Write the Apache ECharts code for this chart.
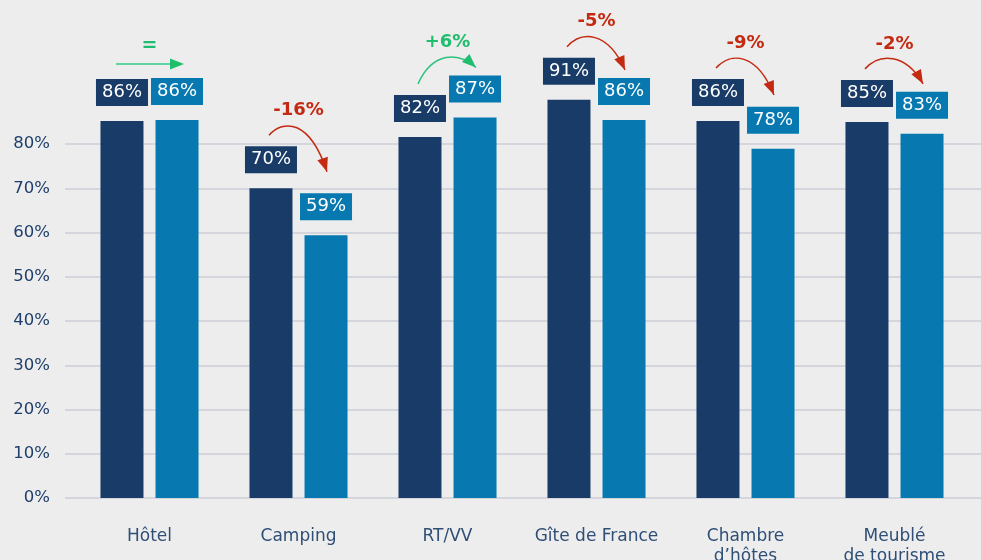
<!DOCTYPE html>
<html>
<head>
<meta charset="utf-8">
<script src="https://cdn.jsdelivr.net/npm/echarts@6/dist/echarts.min.js"></script>
<style>
  html, body { margin: 0; padding: 0; background: #ededed; }
  #chart { width: 981px; height: 560px; }
</style>
</head>
<body>
<div id="chart"></div>
<script>
// categories (x axis)
var categories = ['Hôtel', 'Camping', 'RT/VV', 'Gîte de France', 'Chambre\nd’hôtes', 'Meublé\nde tourisme'];
// bar heights as drawn (first period / second period)
var values1 = [85.2, 70, 81.6, 90, 85.2, 85];
var values2 = [85.4, 59.4, 86, 85.4, 78.9, 82.3];
// printed labels
var labels1 = [86, 70, 82, 91, 86, 85];
var labels2 = [86, 59, 87, 86, 78, 83];
// change annotations
var changes = ['=', '-16%', '+6%', '-5%', '-9%', '-2%'];
var yTicks = [0, 10, 20, 30, 40, 50, 60, 70, 80];

var FONT = 'DejaVu Sans';
var DARK = '#183b67';
var LIGHT = '#0779b0';
var RED = '#c42a12';
var GREEN = '#1fbe6e';

var chart = echarts.init(document.getElementById('chart'));

function barLabel(color, texts) {
  return {
    show: true,
    position: 'top',
    distance: 15,
    formatter: function (p) { return texts[p.dataIndex] + '%'; },
    color: '#fff',
    fontFamily: FONT,
    fontSize: 18,
    lineHeight: 19,
    backgroundColor: color,
    padding: [4, 6, 4, 6]
  };
}

var option = {
  backgroundColor: '#ededed',
  animation: false,
  grid: [
    {left: 65, right: 0, top: 144, bottom: 62, outerBoundsMode: 'none'},
    {left: 75, right: 12, top: 144, bottom: 62, outerBoundsMode: 'none'}
  ],
  xAxis: [
    {gridIndex: 0, type: 'value', show: false},
    {
      gridIndex: 1,
      type: 'category',
      data: categories,
      axisLine: {show: false},
      axisTick: {show: false},
      axisLabel: {margin: 29, fontSize: 17, lineHeight: 20, color: '#2f4f77', fontFamily: FONT, interval: 0}
    }
  ],
  yAxis: [
    {
      gridIndex: 0,
      type: 'value',
      min: yTicks[0],
      max: yTicks[yTicks.length - 1],
      interval: 10,
      axisLine: {show: false},
      axisTick: {show: false},
      axisLabel: {formatter: '{value}%', margin: 15, fontSize: 16.5, color: '#1e3f6b', fontFamily: FONT},
      splitLine: {lineStyle: {color: '#cdcdd8', width: 1.5}}
    },
    {gridIndex: 1, type: 'value', min: 0, max: 80, show: false}
  ],
  series: [
    {
      type: 'bar',
      xAxisIndex: 1,
      yAxisIndex: 1,
      data: values1,
      barWidth: 43,
      barGap: '28%',
      clip: false,
      itemStyle: {color: DARK},
      label: barLabel(DARK, labels1)
    },
    {
      type: 'bar',
      xAxisIndex: 1,
      yAxisIndex: 1,
      data: values2,
      barWidth: 43,
      clip: false,
      itemStyle: {color: LIGHT},
      label: barLabel(LIGHT, labels2)
    }
  ]
};
chart.setOption(option);

// change arrows above each pair
var half = (43 + 12) / 2;
var graphics = [];

function arrowHead(tx, ty, fx, fy, color) {
  var dx = tx - fx, dy = ty - fy;
  var len = Math.sqrt(dx * dx + dy * dy) || 1;
  dx /= len; dy /= len;
  var L = 14, W = 5.5;
  var bx = tx - dx * L, by = ty - dy * L;
  return {
    type: 'polygon',
    shape: {points: [[tx, ty], [bx - dy * W, by + dx * W], [bx + dy * W, by - dx * W]]},
    style: {fill: color}
  };
}

categories.forEach(function (c, i) {
  var p1 = chart.convertToPixel({gridIndex: 1}, [i, values1[i]]);
  var p2 = chart.convertToPixel({gridIndex: 1}, [i, values2[i]]);
  var cx = p1[0];
  var x1 = cx - half, x2 = cx + half;
  var darkTop = p1[1] - 42, lightTop = p2[1] - 42;
  var txt = changes[i];

  if (txt === '=') {
    var ly = darkTop - 15;
    graphics.push({
      type: 'line',
      shape: {x1: x1 - 6, y1: ly, x2: x2 + 2, y2: ly},
      style: {stroke: '#5fd3a0', lineWidth: 2}
    });
    graphics.push(arrowHead(x2 + 7, ly, x1, ly, GREEN));
    graphics.push({
      type: 'text',
      style: {text: txt, x: cx, y: ly - 18, fill: GREEN, font: 'bold 19px ' + FONT, textAlign: 'center', textVerticalAlign: 'middle'}
    });
    return;
  }

  var up = txt.charAt(0) === '+';
  var col = up ? GREEN : RED;
  var sx = x1 - 2, sy = darkTop - 11;
  var ex = x2 + 1;
  var ey = lightTop - 8 - Math.max(0, (lightTop - darkTop) - 20) * 0.5;
  var w = ex - sx;
  var cy = Math.min(sy, ey) - 16;
  var c1x = sx + w * 0.25, c2x = ex - w * 0.3;
  graphics.push({
    type: 'bezierCurve',
    shape: {x1: sx, y1: sy, cpx1: c1x, cpy1: cy, cpx2: c2x, cpy2: cy, x2: ex, y2: ey},
    style: {stroke: up ? '#2cc47c' : RED, lineWidth: 1.5, fill: null}
  });
  graphics.push(arrowHead(ex, ey, c2x, cy, col));
  graphics.push({
    type: 'text',
    style: {text: txt, x: cx, y: Math.min(sy, ey) - 25, fill: col, font: 'bold 18px ' + FONT, textAlign: 'center', textVerticalAlign: 'middle'}
  });
});

chart.setOption({graphic: graphics});
</script>
</body>
</html>
